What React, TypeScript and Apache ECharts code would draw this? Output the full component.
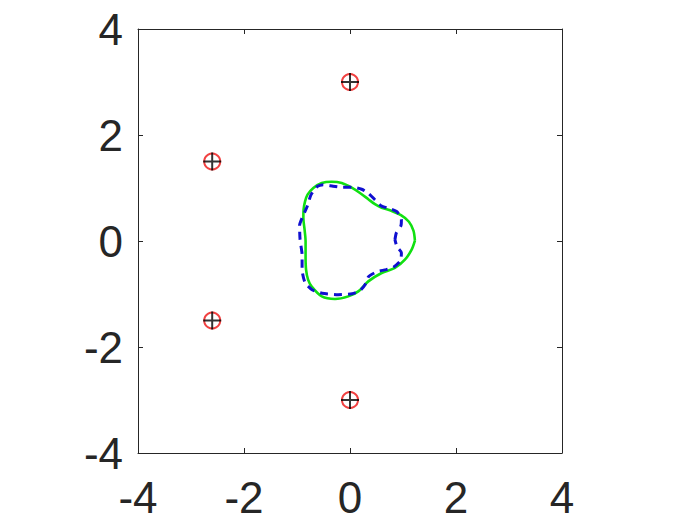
import React, { useEffect, useRef } from "react";
import * as echarts from "echarts";

// Tick values on both axes
const tickValues = [-4, -2, 0, 2, 4];

// Marker locations (red circles with black crosses)
const markerX = [0, -2.6, -2.6, 0];
const markerY = [3, 1.5, -1.5, -3];

// Green solid closed curve
const greenX = [1.225, 1.197, 1.112, 0.961, 0.754, 0.597, 0.471, 0.345, 0.188, 0.032, -0.156, -0.345, -0.533, -0.692, -0.801, -0.848, -0.876, -0.88, -0.857, -0.838, -0.838, -0.829, -0.791, -0.722, -0.533, -0.283, -0.032, 0.156, 0.345, 0.597, 0.848, 1.036, 1.163, 1.225];
const greenY = [0.006, 0.194, 0.364, 0.487, 0.581, 0.628, 0.694, 0.789, 0.906, 1.006, 1.094, 1.119, 1.094, 1.0, 0.874, 0.747, 0.591, 0.434, 0.213, -0.008, -0.291, -0.542, -0.73, -0.862, -1.045, -1.094, -1.045, -0.951, -0.762, -0.604, -0.509, -0.353, -0.164, 0.006];

// Blue dashed closed curve
const blueX = [0.848, 0.876, 0.961, 0.97, 0.885, 0.754, 0.584, 0.471, 0.345, 0.22, 0.038, -0.151, -0.32, -0.509, -0.622, -0.735, -0.81, -0.886, -0.952, -0.942, -0.904, -0.904, -0.848, -0.716, -0.527, -0.226, 0.038, 0.188, 0.283, 0.349, 0.509, 0.678, 0.82, 0.952, 0.97, 0.886, 0.848];
const blueY = [0.025, 0.157, 0.289, 0.402, 0.553, 0.609, 0.666, 0.779, 0.902, 0.977, 1.015, 1.015, 1.034, 1.062, 1.024, 0.874, 0.647, 0.477, 0.289, 0.025, -0.258, -0.542, -0.787, -0.919, -0.985, -1.013, -0.994, -0.938, -0.825, -0.674, -0.579, -0.541, -0.494, -0.372, -0.221, -0.108, 0.025];

const zip = (xs: number[], ys: number[]) => xs.map((x, i) => [x, ys[i]]);

const axisColor = "#262626";
const fontFamily = "'Liberation Sans', Arial, Helvetica, sans-serif";

export default function App() {
  const ref = useRef<HTMLDivElement>(null);

  useEffect(() => {
    if (!ref.current) return;
    const chart = echarts.init(ref.current, undefined, { renderer: "svg" });

    const baseAxis = {
      type: "value" as const,
      min: tickValues[0],
      max: tickValues[tickValues.length - 1],
      interval: 2,
      splitLine: { show: false },
      axisLine: { show: true, onZero: false, lineStyle: { color: axisColor, width: 1 } },
      axisTick: { show: true, inside: true, length: 5, lineStyle: { color: axisColor, width: 1 } },
    };

    const labelStyle = {
      color: axisColor,
      fontSize: 44,
      fontFamily,
    };

    chart.setOption({
      animation: false,
      backgroundColor: "#ffffff",
      grid: { left: 138, top: 29, width: 424, height: 424, containLabel: false },
      xAxis: [
        {
          ...baseAxis,
          position: "bottom",
          axisLabel: { ...labelStyle, margin: 22 },
        },
        {
          ...baseAxis,
          position: "top",
          axisLabel: { show: false },
        },
      ],
      yAxis: [
        {
          ...baseAxis,
          position: "left",
          axisLabel: { ...labelStyle, margin: 15 },
        },
        {
          ...baseAxis,
          position: "right",
          axisLabel: { show: false },
        },
      ],
      series: [
        {
          type: "line",
          data: zip(greenX, greenY),
          showSymbol: false,
          symbol: "none",
          smooth: 0.3,
          lineStyle: { color: "#11e011", width: 2.6 },
          z: 2,
        },
        {
          type: "line",
          data: zip(blueX, blueY),
          showSymbol: false,
          symbol: "none",
          smooth: 0.2,
          lineStyle: { color: "#1010d0", width: 3, type: [8, 6] },
          z: 3,
        },
        {
          type: "scatter",
          data: zip(markerX, markerY),
          symbol: "circle",
          symbolSize: 16,
          itemStyle: { color: "rgba(0,0,0,0)", borderColor: "#ee1111", borderWidth: 2 },
          z: 4,
        },
        {
          type: "scatter",
          data: zip(markerX, markerY),
          symbol: "path://M4.45,0h1.1v10h-1.1z M0,4.45h10v1.1h-10z",
          symbolSize: 18,
          itemStyle: { color: "#000000" },
          z: 5,
        },
      ],
    });

    return () => chart.dispose();
  }, []);

  return (
    <div
      ref={ref}
      style={{ position: "fixed", left: 0, top: 0, width: 700, height: 525, background: "#fff" }}
    />
  );
}
